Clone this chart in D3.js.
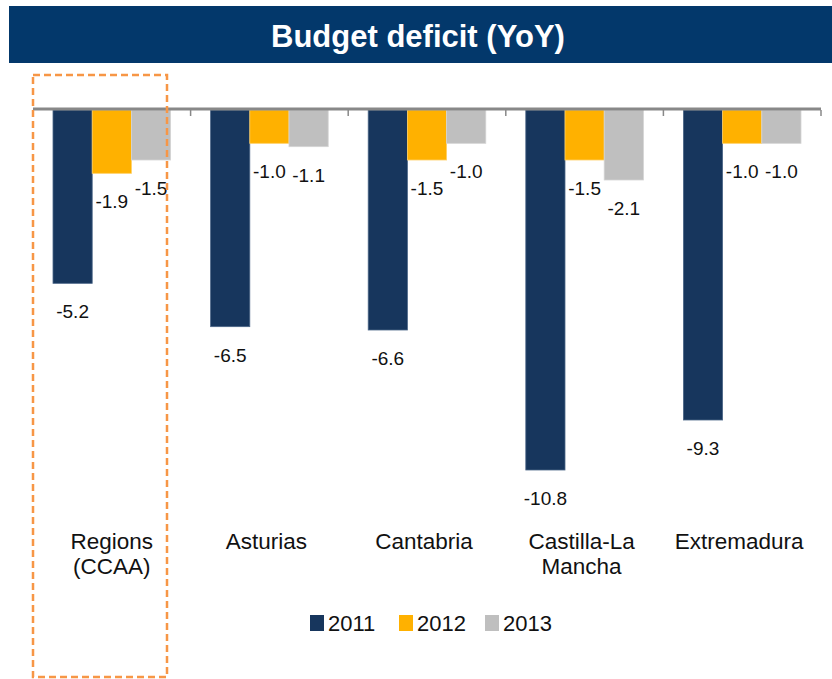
<!DOCTYPE html>
<html>
<head>
<meta charset="utf-8">
<script src="https://cdn.jsdelivr.net/npm/d3@7"></script>
<style>
  html, body { margin: 0; padding: 0; background: #fff; }
  svg { display: block; font-family: "Liberation Sans", Arial, sans-serif; }
</style>
</head>
<body>
<svg id="chart" width="832" height="679"></svg>
<script>
// Regional budget deficit, % of GDP
const categories = ["Regions (CCAA)", "Asturias", "Cantabria", "Castilla-La Mancha", "Extremadura"];
const categoryLines = [["Regions", "(CCAA)"], ["Asturias"], ["Cantabria"], ["Castilla-La", "Mancha"], ["Extremadura"]];
const seriesNames = ["2011", "2012", "2013"];
const values2011 = [-5.2, -6.5, -6.6, -10.8, -9.3];
const values2012 = [-1.9, -1.0, -1.5, -1.5, -1.0];
const values2013 = [-1.5, -1.1, -1.0, -2.1, -1.0];
const seriesValues = [values2011, values2012, values2013];
const colors = ["#17365D", "#FFB100", "#BFBFBF"];
const strokes = ["#4c6688", "#ffd066", "#d4d4d4"];

const svg = d3.select("#chart");

// Title band
svg.append("rect").attr("x", 9).attr("y", 6).attr("width", 823).attr("height", 57).attr("fill", "#03386B");
svg.append("text").attr("x", 418).attr("y", 47).attr("text-anchor", "middle")
  .attr("fill", "#fff").attr("font-weight", "bold").attr("font-size", 31)
  .text("Budget deficit (YoY)");

// Scales
const x = d3.scaleBand().domain(categories).range([33, 821]).paddingInner(0).paddingOuter(0);
const xs = d3.scaleBand().domain(seriesNames).range([20, x.bandwidth() - 20]).padding(0);
const y = d3.scaleLinear().domain([0, -12]).range([110, 510]);

// Bars
const groups = svg.append("g").selectAll("g").data(categories).join("g")
  .attr("transform", d => `translate(${x(d)},0)`);

seriesNames.forEach((s, si) => {
  groups.append("rect")
    .attr("x", (d, i) => xs(s))
    .attr("y", y(0))
    .attr("width", xs.bandwidth())
    .attr("height", (d, i) => y(seriesValues[si][i]) - y(0))
    .attr("fill", colors[si])
    .attr("stroke", strokes[si])
    .attr("stroke-width", 0.8);
  groups.append("text")
    .attr("x", (d, i) => xs(s) + xs.bandwidth() / 2)
    .attr("y", (d, i) => y(seriesValues[si][i]) + 35)
    .attr("text-anchor", "middle")
    .attr("font-size", 19)
    .attr("fill", "#111")
    .text((d, i) => seriesValues[si][i].toFixed(1));
});

// Zero axis with category separators
const axisG = svg.append("g");
axisG.append("line").attr("x1", 33).attr("x2", 821).attr("y1", 109).attr("y2", 109)
  .attr("stroke", "#888").attr("stroke-width", 3);
const boundaries = categories.map(c => x(c)).concat([x.range()[1]]);
axisG.selectAll("line.tick").data(boundaries).join("line").attr("class", "tick")
  .attr("x1", d => d).attr("x2", d => d).attr("y1", 110).attr("y2", 116)
  .attr("stroke", "#888").attr("stroke-width", 1.5);

// Category labels
groups.each(function(d, i) {
  const g = d3.select(this);
  categoryLines[i].forEach((line, li) => {
    g.append("text")
      .attr("x", x.bandwidth() / 2 - (i === 0 ? 0 : 3))
      .attr("y", 549 + li * 25)
      .attr("text-anchor", "middle")
      .attr("font-size", 22.5)
      .attr("fill", "#111")
      .text(line);
  });
});

// Legend
const legendX = [310, 399, 485];
const legend = svg.append("g");
seriesNames.forEach((s, si) => {
  legend.append("rect").attr("x", legendX[si]).attr("y", 615).attr("width", 14).attr("height", 16)
    .attr("fill", colors[si]);
  legend.append("text").attr("x", legendX[si] + 18).attr("y", 631)
    .attr("font-size", 22).attr("fill", "#111").text(s);
});

// Highlight box around the regional aggregate
svg.append("rect").attr("x", 33).attr("y", 75).attr("width", 134).attr("height", 602)
  .attr("fill", "none").attr("stroke", "#F79646").attr("stroke-width", 2.5)
  .attr("stroke-dasharray", "7,4");
</script>
</body>
</html>
